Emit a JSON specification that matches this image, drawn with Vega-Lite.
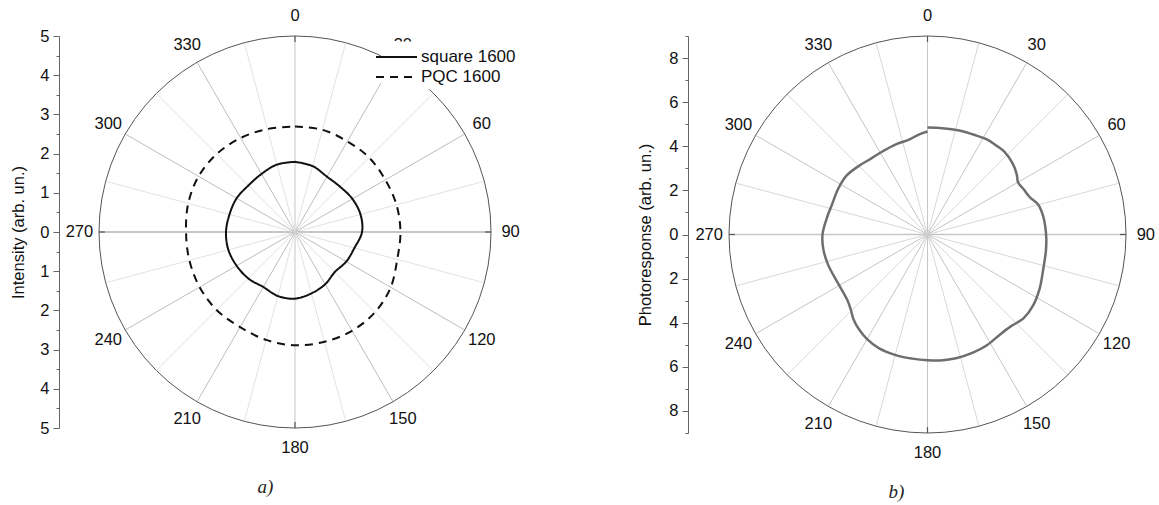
{
  "$schema": "https://vega.github.io/schema/vega-lite/v6.json",
  "background": "white",
  "padding": {"left": 10, "top": 8, "right": 4, "bottom": 4},
  "bounds": "flush",
  "spacing": 238,
  "config": {
    "font": "Liberation Sans",
    "view": {"stroke": null},
    "text": {"font": "Liberation Sans"}
  },
  "datasets": {
    "spokes": [
      {"angle": 0}, {"angle": 15}, {"angle": 30}, {"angle": 45}, {"angle": 60}, {"angle": 75},
      {"angle": 90}, {"angle": 105}, {"angle": 120}, {"angle": 135}, {"angle": 150}, {"angle": 165},
      {"angle": 180}, {"angle": 195}, {"angle": 210}, {"angle": 225}, {"angle": 240}, {"angle": 255},
      {"angle": 270}, {"angle": 285}, {"angle": 300}, {"angle": 315}, {"angle": 330}, {"angle": 345}
    ],
    "ring": [
      {"angle": 0}, {"angle": 5}, {"angle": 10}, {"angle": 15}, {"angle": 20}, {"angle": 25}, {"angle": 30}, {"angle": 35},
      {"angle": 40}, {"angle": 45}, {"angle": 50}, {"angle": 55}, {"angle": 60}, {"angle": 65}, {"angle": 70}, {"angle": 75},
      {"angle": 80}, {"angle": 85}, {"angle": 90}, {"angle": 95}, {"angle": 100}, {"angle": 105}, {"angle": 110}, {"angle": 115},
      {"angle": 120}, {"angle": 125}, {"angle": 130}, {"angle": 135}, {"angle": 140}, {"angle": 145}, {"angle": 150}, {"angle": 155},
      {"angle": 160}, {"angle": 165}, {"angle": 170}, {"angle": 175}, {"angle": 180}, {"angle": 185}, {"angle": 190}, {"angle": 195},
      {"angle": 200}, {"angle": 205}, {"angle": 210}, {"angle": 215}, {"angle": 220}, {"angle": 225}, {"angle": 230}, {"angle": 235},
      {"angle": 240}, {"angle": 245}, {"angle": 250}, {"angle": 255}, {"angle": 260}, {"angle": 265}, {"angle": 270}, {"angle": 275},
      {"angle": 280}, {"angle": 285}, {"angle": 290}, {"angle": 295}, {"angle": 300}, {"angle": 305}, {"angle": 310}, {"angle": 315},
      {"angle": 320}, {"angle": 325}, {"angle": 330}, {"angle": 335}, {"angle": 340}, {"angle": 345}, {"angle": 350}, {"angle": 355},
      {"angle": 360}
    ],
    "curvesA": [
      {"series": "square 1600", "angle": 0, "r": 1.79},
      {"series": "square 1600", "angle": 15, "r": 1.74},
      {"series": "square 1600", "angle": 30, "r": 1.63},
      {"series": "square 1600", "angle": 45, "r": 1.63},
      {"series": "square 1600", "angle": 60, "r": 1.69},
      {"series": "square 1600", "angle": 75, "r": 1.73},
      {"series": "square 1600", "angle": 90, "r": 1.71},
      {"series": "square 1600", "angle": 105, "r": 1.57},
      {"series": "square 1600", "angle": 120, "r": 1.51},
      {"series": "square 1600", "angle": 135, "r": 1.44},
      {"series": "square 1600", "angle": 150, "r": 1.54},
      {"series": "square 1600", "angle": 165, "r": 1.62},
      {"series": "square 1600", "angle": 180, "r": 1.70},
      {"series": "square 1600", "angle": 195, "r": 1.69},
      {"series": "square 1600", "angle": 210, "r": 1.62},
      {"series": "square 1600", "angle": 225, "r": 1.68},
      {"series": "square 1600", "angle": 240, "r": 1.72},
      {"series": "square 1600", "angle": 255, "r": 1.76},
      {"series": "square 1600", "angle": 270, "r": 1.76},
      {"series": "square 1600", "angle": 285, "r": 1.73},
      {"series": "square 1600", "angle": 300, "r": 1.72},
      {"series": "square 1600", "angle": 315, "r": 1.68},
      {"series": "square 1600", "angle": 330, "r": 1.71},
      {"series": "square 1600", "angle": 345, "r": 1.78},
      {"series": "square 1600", "angle": 360, "r": 1.79},
      {"series": "PQC 1600", "angle": 0, "r": 2.69},
      {"series": "PQC 1600", "angle": 15, "r": 2.70},
      {"series": "PQC 1600", "angle": 30, "r": 2.67},
      {"series": "PQC 1600", "angle": 45, "r": 2.68},
      {"series": "PQC 1600", "angle": 60, "r": 2.66},
      {"series": "PQC 1600", "angle": 75, "r": 2.68},
      {"series": "PQC 1600", "angle": 90, "r": 2.69},
      {"series": "PQC 1600", "angle": 105, "r": 2.70},
      {"series": "PQC 1600", "angle": 120, "r": 2.82},
      {"series": "PQC 1600", "angle": 135, "r": 2.89},
      {"series": "PQC 1600", "angle": 150, "r": 2.91},
      {"series": "PQC 1600", "angle": 165, "r": 2.90},
      {"series": "PQC 1600", "angle": 180, "r": 2.89},
      {"series": "PQC 1600", "angle": 195, "r": 2.85},
      {"series": "PQC 1600", "angle": 210, "r": 2.80},
      {"series": "PQC 1600", "angle": 225, "r": 2.82},
      {"series": "PQC 1600", "angle": 240, "r": 2.81},
      {"series": "PQC 1600", "angle": 255, "r": 2.79},
      {"series": "PQC 1600", "angle": 270, "r": 2.78},
      {"series": "PQC 1600", "angle": 285, "r": 2.82},
      {"series": "PQC 1600", "angle": 300, "r": 2.84},
      {"series": "PQC 1600", "angle": 315, "r": 2.82},
      {"series": "PQC 1600", "angle": 330, "r": 2.77},
      {"series": "PQC 1600", "angle": 345, "r": 2.72},
      {"series": "PQC 1600", "angle": 360, "r": 2.69}
    ],
    "curveB": [
      {"angle": 0, "r": 4.85}, {"angle": 8, "r": 4.87}, {"angle": 17, "r": 4.93}, {"angle": 26, "r": 5.00},
      {"angle": 32, "r": 5.08}, {"angle": 38, "r": 5.10}, {"angle": 43, "r": 5.12}, {"angle": 50, "r": 5.03},
      {"angle": 56, "r": 4.88}, {"angle": 60, "r": 4.74}, {"angle": 65, "r": 4.82}, {"angle": 70, "r": 4.94},
      {"angle": 75, "r": 5.20}, {"angle": 81, "r": 5.31}, {"angle": 86, "r": 5.35}, {"angle": 92, "r": 5.39},
      {"angle": 98, "r": 5.42}, {"angle": 106, "r": 5.47}, {"angle": 116, "r": 5.65}, {"angle": 124, "r": 5.77},
      {"angle": 131, "r": 5.78}, {"angle": 138, "r": 5.62}, {"angle": 144, "r": 5.60}, {"angle": 152, "r": 5.70},
      {"angle": 159, "r": 5.74}, {"angle": 167, "r": 5.76}, {"angle": 174, "r": 5.74}, {"angle": 180, "r": 5.70},
      {"angle": 187, "r": 5.67}, {"angle": 194, "r": 5.66}, {"angle": 203, "r": 5.61}, {"angle": 210, "r": 5.48},
      {"angle": 216, "r": 5.30}, {"angle": 221, "r": 5.11}, {"angle": 226, "r": 4.85}, {"angle": 231, "r": 4.69},
      {"angle": 241, "r": 4.62}, {"angle": 253, "r": 4.71}, {"angle": 262, "r": 4.77}, {"angle": 270, "r": 4.76},
      {"angle": 279, "r": 4.63}, {"angle": 287, "r": 4.54}, {"angle": 297, "r": 4.55}, {"angle": 306, "r": 4.54},
      {"angle": 315, "r": 4.40}, {"angle": 322, "r": 4.30}, {"angle": 330, "r": 4.28}, {"angle": 341, "r": 4.33},
      {"angle": 349, "r": 4.38}, {"angle": 355, "r": 4.55}, {"angle": 360, "r": 4.67}
    ]
  },
  "hconcat": [
    {
      "width": 392,
      "height": 392,
      "title": {"text": "a)", "orient": "bottom", "anchor": "middle", "frame": "bounds", "font": "Liberation Serif", "fontStyle": "italic", "fontWeight": "normal", "fontSize": 19, "color": "#222", "offset": 22},
      "encoding": {
        "x": {"field": "x", "type": "quantitative", "scale": {"domain": [-5, 5], "nice": false, "zero": false}, "axis": null},
        "y": {
          "field": "y", "type": "quantitative",
          "scale": {"domain": [-5, 5], "nice": false, "zero": false},
          "axis": {
            "title": "Intensity (arb. un.)",
            "values": [-5, -4.5, -4, -3.5, -3, -2.5, -2, -1.5, -1, -0.5, 0, 0.5, 1, 1.5, 2, 2.5, 3, 3.5, 4, 4.5, 5],
            "labelExpr": "datum.value % 1 == 0 ? format(abs(datum.value), 'd') : ''",
            "tickSize": {"condition": {"test": "datum.value % 1 == 0", "value": 6}, "value": 3},
            "offset": 40,
            "grid": false,
            "domainColor": "#666", "tickColor": "#666",
            "labelFontSize": 16.5, "labelColor": "#111", "labelPadding": 4,
            "labelFlush": false, "labelOverlap": false, "labelBound": false,
            "titleFontSize": 16.5, "titleFontWeight": "normal", "titleColor": "#111", "titlePadding": 13
          }
        }
      },
      "layer": [
        {
          "data": {"name": "spokes"},
          "transform": [
            {"calculate": "datum.angle * PI / 180", "as": "rad"},
            {"calculate": "0", "as": "x"},
            {"calculate": "0", "as": "y"},
            {"calculate": "5 * sin(datum.rad)", "as": "x2"},
            {"calculate": "5 * cos(datum.rad)", "as": "y2"}
          ],
          "mark": {"type": "rule"},
          "encoding": {
            "x2": {"field": "x2"},
            "y2": {"field": "y2"},
            "stroke": {"condition": [{"test": "datum.angle % 90 == 0", "value": "#c6c6c6"}, {"test": "datum.angle % 30 == 0", "value": "#bdbdbd"}], "value": "#e2e2e2"},
            "strokeWidth": {"condition": {"test": "datum.angle % 180 == 90", "value": 2}, "value": 1}
          }
        },
        {
          "data": {"name": "spokes"},
          "transform": [
            {"filter": "datum.angle % 90 == 0"},
            {"calculate": "datum.angle * PI / 180", "as": "rad"},
            {"calculate": "4.85 * sin(datum.rad)", "as": "x"},
            {"calculate": "4.85 * cos(datum.rad)", "as": "y"},
            {"calculate": "5 * sin(datum.rad)", "as": "x2"},
            {"calculate": "5 * cos(datum.rad)", "as": "y2"}
          ],
          "mark": {"type": "rule", "stroke": "#555", "strokeWidth": 1.2},
          "encoding": {"x2": {"field": "x2"}, "y2": {"field": "y2"}}
        },
        {
          "data": {"name": "ring"},
          "transform": [
            {"calculate": "datum.angle * PI / 180", "as": "rad"},
            {"calculate": "5 * sin(datum.rad)", "as": "x"},
            {"calculate": "5 * cos(datum.rad)", "as": "y"}
          ],
          "mark": {"type": "line", "stroke": "#555", "strokeWidth": 1},
          "encoding": {"order": {"field": "angle", "type": "quantitative"}}
        },
        {
          "data": {"name": "curvesA"},
          "transform": [
            {"calculate": "datum.angle * PI / 180", "as": "rad"},
            {"calculate": "datum.r * sin(datum.rad)", "as": "x"},
            {"calculate": "datum.r * cos(datum.rad)", "as": "y"}
          ],
          "mark": {"type": "line", "stroke": "#111", "strokeWidth": 2, "interpolate": "catmull-rom"},
          "encoding": {
            "order": {"field": "angle", "type": "quantitative"},
            "strokeDash": {
              "field": "series", "type": "nominal",
              "scale": {"domain": ["square 1600", "PQC 1600"], "range": [[1, 0], [8, 6]]},
              "legend": {
                "title": null, "orient": "none", "legendX": 282, "legendY": 5.5, "zindex": 5,
                "fillColor": "white", "padding": 4, "rowPadding": 0,
                "symbolType": "M-2,0H2", "symbolSize": 420, "symbolStrokeWidth": 2, "symbolStrokeColor": "#111",
                "labelFontSize": 17, "labelColor": "#111", "labelOffset": 13
              }
            }
          }
        },
        {
          "data": {"name": "spokes"},
          "transform": [
            {"filter": "datum.angle % 30 == 0"},
            {"calculate": "datum.angle * PI / 180", "as": "rad"},
            {"calculate": "5.5 * sin(datum.rad)", "as": "x"},
            {"calculate": "5.5 * cos(datum.rad)", "as": "y"}
          ],
          "mark": {"type": "text", "fontSize": 16.5, "color": "#111", "align": "center", "baseline": "middle"},
          "encoding": {"text": {"field": "angle", "type": "quantitative"}}
        }
      ]
    },
    {
      "width": 397,
      "height": 397,
      "title": {"text": "b)", "orient": "bottom", "anchor": "middle", "frame": "bounds", "font": "Liberation Serif", "fontStyle": "italic", "fontWeight": "normal", "fontSize": 19, "color": "#222", "offset": 22},
      "encoding": {
        "x": {"field": "x", "type": "quantitative", "scale": {"domain": [-9, 9], "nice": false, "zero": false}, "axis": null},
        "y": {
          "field": "y", "type": "quantitative",
          "scale": {"domain": [-9, 9], "nice": false, "zero": false},
          "axis": {
            "title": "Photoresponse (arb. un.)",
            "values": [-9, -8, -7, -6, -5, -4, -3, -2, -1, 0, 1, 2, 3, 4, 5, 6, 7, 8, 9],
            "labelExpr": "datum.value % 2 == 0 ? format(abs(datum.value), 'd') : ''",
            "tickSize": {"condition": {"test": "datum.value % 2 == 0", "value": 6}, "value": 3},
            "offset": 41,
            "grid": false,
            "domainColor": "#666", "tickColor": "#666",
            "labelFontSize": 16.5, "labelColor": "#111", "labelPadding": 4,
            "labelFlush": false, "labelOverlap": false, "labelBound": false,
            "titleFontSize": 16.5, "titleFontWeight": "normal", "titleColor": "#111", "titlePadding": 15
          }
        }
      },
      "layer": [
        {
          "data": {"name": "spokes"},
          "transform": [
            {"calculate": "datum.angle * PI / 180", "as": "rad"},
            {"calculate": "0", "as": "x"},
            {"calculate": "0", "as": "y"},
            {"calculate": "9 * sin(datum.rad)", "as": "x2"},
            {"calculate": "9 * cos(datum.rad)", "as": "y2"}
          ],
          "mark": {"type": "rule"},
          "encoding": {
            "x2": {"field": "x2"},
            "y2": {"field": "y2"},
            "stroke": {"condition": [{"test": "datum.angle % 90 == 0", "value": "#c6c6c6"}, {"test": "datum.angle % 30 == 0", "value": "#c4c4c4"}], "value": "#d8d8d8"},
            "strokeWidth": {"condition": {"test": "datum.angle % 180 == 90", "value": 1.5}, "value": 1}
          }
        },
        {
          "data": {"name": "spokes"},
          "transform": [
            {"filter": "datum.angle % 90 == 0"},
            {"calculate": "datum.angle * PI / 180", "as": "rad"},
            {"calculate": "8.73 * sin(datum.rad)", "as": "x"},
            {"calculate": "8.73 * cos(datum.rad)", "as": "y"},
            {"calculate": "9 * sin(datum.rad)", "as": "x2"},
            {"calculate": "9 * cos(datum.rad)", "as": "y2"}
          ],
          "mark": {"type": "rule", "stroke": "#555", "strokeWidth": 1.2},
          "encoding": {"x2": {"field": "x2"}, "y2": {"field": "y2"}}
        },
        {
          "data": {"name": "ring"},
          "transform": [
            {"calculate": "datum.angle * PI / 180", "as": "rad"},
            {"calculate": "9 * sin(datum.rad)", "as": "x"},
            {"calculate": "9 * cos(datum.rad)", "as": "y"}
          ],
          "mark": {"type": "line", "stroke": "#555", "strokeWidth": 1},
          "encoding": {"order": {"field": "angle", "type": "quantitative"}}
        },
        {
          "data": {"name": "curveB"},
          "transform": [
            {"calculate": "datum.angle * PI / 180", "as": "rad"},
            {"calculate": "datum.r * sin(datum.rad)", "as": "x"},
            {"calculate": "datum.r * cos(datum.rad)", "as": "y"}
          ],
          "mark": {"type": "line", "stroke": "#6e6e6e", "strokeWidth": 2.5, "interpolate": "catmull-rom"},
          "encoding": {"order": {"field": "angle", "type": "quantitative"}}
        },
        {
          "data": {"name": "spokes"},
          "transform": [
            {"filter": "datum.angle % 30 == 0"},
            {"calculate": "datum.angle * PI / 180", "as": "rad"},
            {"calculate": "9.9 * sin(datum.rad)", "as": "x"},
            {"calculate": "9.9 * cos(datum.rad)", "as": "y"}
          ],
          "mark": {"type": "text", "fontSize": 16.5, "color": "#111", "align": "center", "baseline": "middle"},
          "encoding": {"text": {"field": "angle", "type": "quantitative"}}
        }
      ]
    }
  ]
}
